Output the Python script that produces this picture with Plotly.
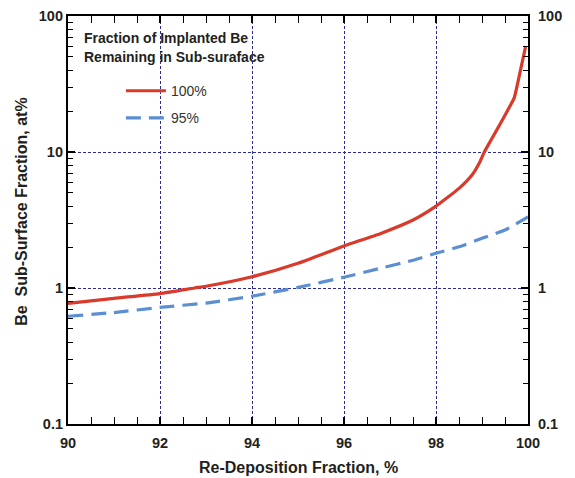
import plotly.graph_objects as go

x_100 = [90, 91, 92, 92.75, 93, 94, 95, 96, 96.8, 97.5, 98, 98.5, 98.8, 98.95, 99.05, 99.2, 99.4, 99.6, 99.7, 99.83, 99.95]
y_100 = [0.77, 0.84, 0.91, 1.0, 1.03, 1.21, 1.52, 2.04, 2.52, 3.16, 4.0, 5.4, 6.9, 8.4, 10.0, 12.3, 16.2, 21.5, 25, 39, 60]

x_95 = [90, 91, 92, 93, 94, 95, 96, 96.8, 97.5, 98, 98.5, 99, 99.5, 100]
y_95 = [0.62, 0.66, 0.72, 0.775, 0.87, 1.01, 1.2, 1.40, 1.6, 1.8, 2.01, 2.32, 2.67, 3.34]

x_ticks = [90, 92, 94, 96, 98, 100]
y_ticks = [0.1, 1, 10, 100]
y_ticklabels = ["0.1", "1", "10", "100"]
y_minor = [m * d for d in (0.1, 1, 10) for m in range(2, 10)]

FONT = "Liberation Sans, Arial, sans-serif"
GRID = "#2b2b9a"
TXT = "#231f20"

fig = go.Figure()
fig.add_trace(go.Scatter(x=x_100, y=y_100, mode="lines", name="100%",
                         line=dict(color="#d93a2b", width=3.2, shape="spline", smoothing=0.5),
                         legendgroup="a"))
fig.add_trace(go.Scatter(x=x_95, y=y_95, mode="lines", name="95%",
                         line=dict(color="#5b8fd2", width=3.2, dash="15px,8px", shape="spline", smoothing=0.5),
                         legendgroup="b"))
# invisible trace to drive right-side labels
fig.add_trace(go.Scatter(x=[90], y=[1], yaxis="y2", mode="markers",
                         marker=dict(opacity=0), showlegend=False, hoverinfo="skip"))

axis_common = dict(showline=True, linecolor="black", linewidth=2.2,
                   ticks="inside", ticklen=7, tickwidth=1.5, tickcolor="black",
                   tickfont=dict(family=FONT, size=14.5, color=TXT, weight="bold"),
                   zeroline=False, automargin=False)

fig.update_layout(
    width=575, height=478,
    margin=dict(l=68, r=47, t=16, b=54),
    paper_bgcolor="white", plot_bgcolor="white",
    xaxis=dict(range=[90, 100], tickvals=x_ticks, mirror="allticks", ticklabelstandoff=4,
               showgrid=True, gridcolor=GRID, gridwidth=1, griddash="3px,2px",
               minor=dict(dtick=0.5, ticks="inside", ticklen=5, tickwidth=1, tickcolor="black", showgrid=False),
               **axis_common),
    yaxis=dict(type="log", range=[-1, 2], tickvals=y_ticks, ticktext=y_ticklabels, mirror="allticks",
               showgrid=True, gridcolor=GRID, gridwidth=1, griddash="3px,2px",
               minor=dict(tickvals=y_minor, ticks="inside", ticklen=5, tickwidth=1, tickcolor="black", showgrid=False),
               **axis_common),
    yaxis2=dict(type="log", range=[-1, 2], tickvals=y_ticks, ticktext=y_ticklabels,
                overlaying="y", side="right", showgrid=False, showline=False, ticks="",
                ticklabelstandoff=9, automargin=False,
                tickfont=dict(family=FONT, size=14.5, color=TXT, weight="bold"), zeroline=False),
    legend=dict(x=0.115, y=0.855, xanchor="left", yanchor="top", bgcolor="rgba(0,0,0,0)",
                font=dict(family=FONT, size=14, color="#333"), tracegroupgap=6, itemwidth=40),
    annotations=[
        dict(text="<b>Fraction of Implanted Be</b>",
             xref="paper", yref="paper", x=0.03, y=0.946, xanchor="left", yanchor="middle",
             showarrow=False, font=dict(family=FONT, size=14, color=TXT)),
        dict(text="<b>Remaining in Sub-suraface</b>",
             xref="paper", yref="paper", x=0.03, y=0.8995, xanchor="left", yanchor="middle",
             showarrow=False, font=dict(family=FONT, size=14, color=TXT)),
        dict(text="<b>Re-Deposition Fraction, %</b>", xref="paper", yref="paper",
             x=0.5, y=-0.107, xanchor="center", yanchor="middle", showarrow=False,
             font=dict(family=FONT, size=16, color=TXT)),
        dict(text="<b>Be\u00a0 Sub-Surface Fraction, at%</b>", xref="paper", yref="paper",
             x=-0.1, y=0.52, xanchor="center", yanchor="middle", textangle=-90, showarrow=False,
             font=dict(family=FONT, size=16, color=TXT)),
    ],
)

fig.write_html("out.html")
